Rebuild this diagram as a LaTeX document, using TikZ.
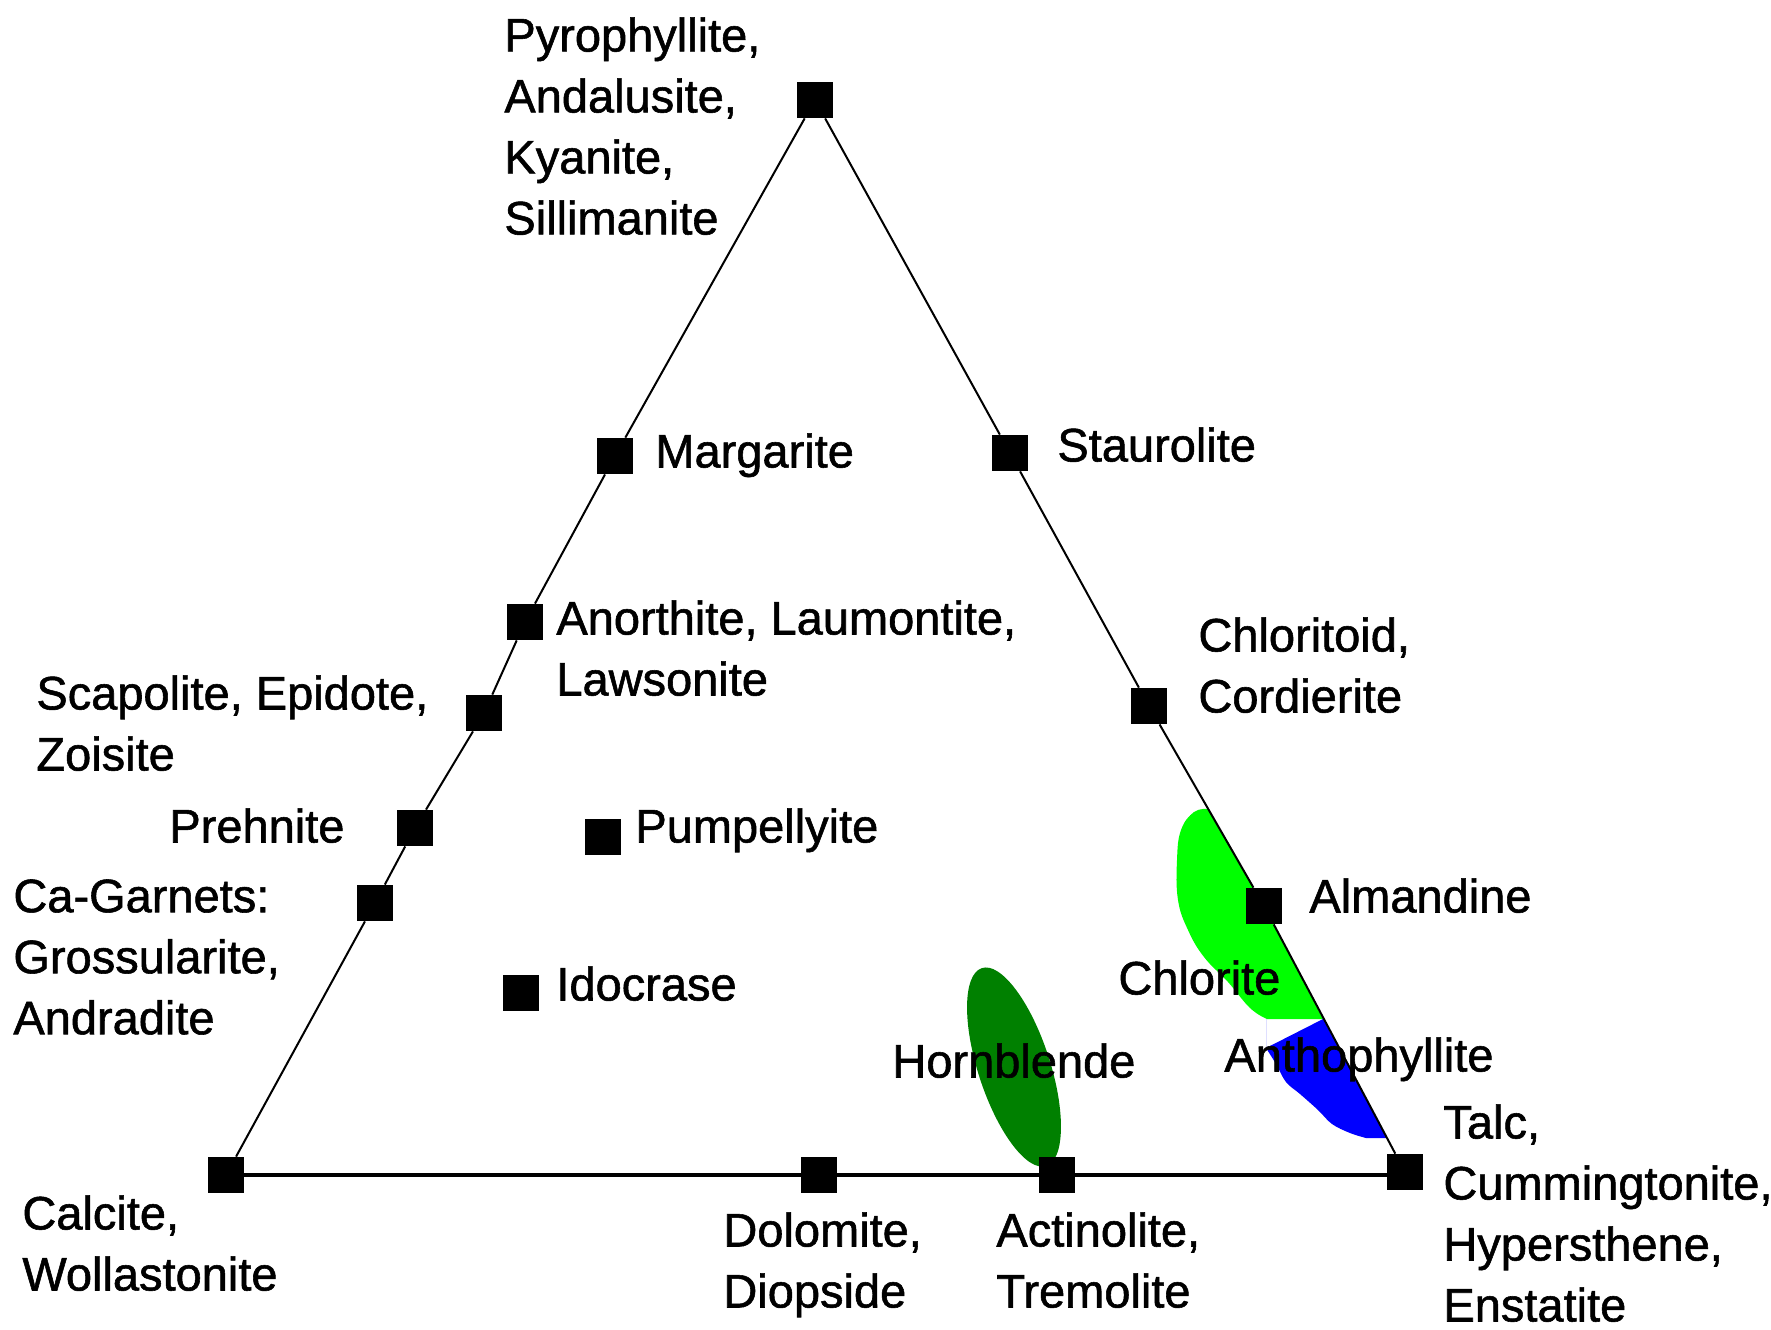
\documentclass[tikz,border=0pt]{standalone}
\usepackage{fontspec}
\setmainfont{Liberation Sans}
\newfontfamily\lblfont{Liberation Sans}[FakeBold=1.2]

\definecolor{chlgreen}{RGB}{0,255,0}
\definecolor{anthblue}{RGB}{0,0,255}
\definecolor{hbgreen}{RGB}{0,128,0}

\begin{document}
\begin{tikzpicture}[x=0.5pt, y=-0.5pt,
    mineral/.style={rectangle, fill=black, minimum size=18pt, inner sep=0pt},
    lbl/.style={anchor=north west, inner sep=0pt, align=left,
        font=\lblfont\fontsize{23.5}{30.5}\selectfont},
    side/.style={line width=1pt},
    base/.style={line width=2pt}]

    % Page frame
    \useasboundingbox (0,0) rectangle (1771,1329);

    % Mineral fields
    \fill[hbgreen, rotate around={18:(1014,1067)}] (1014,1067) ellipse [x radius=36, y radius=104];
    \fill[chlgreen] plot[smooth, tension=0.7] coordinates {(1208,809) (1194,812) (1181,830) (1177,860)
        (1178,900) (1188,930) (1204,957) (1228,982) (1250,1008) (1267,1019)}
        -- (1323,1019) -- (1264,906) -- cycle;
    \fill[anthblue] (1266,1019) -- (1266,1048) plot[smooth, tension=0.6] coordinates {(1266,1048) (1276,1064)
        (1286,1082) (1300,1094) (1318,1110) (1332,1124) (1350,1133) (1366,1138)}
        -- (1387,1138) -- (1323,1019) -- cycle;

    % End members and phases
    \node[mineral] (pyro) at (815,100) {};
    \node[mineral] (marg) at (615,456) {};
    \node[mineral] (anor) at (525,622) {};
    \node[mineral] (scap) at (484,713) {};
    \node[mineral] (preh) at (415,828) {};
    \node[mineral] (garn) at (375,903) {};
    \node[mineral] (pump) at (603,837) {};
    \node[mineral] (idoc) at (521,993) {};
    \node[mineral] (stau) at (1010,453) {};
    \node[mineral] (chld) at (1149,706) {};
    \node[mineral] (alm) at (1264,906) {};
    \node[mineral] (calc) at (226,1175) {};
    \node[mineral] (dolo) at (819,1175) {};
    \node[mineral] (acti) at (1057,1175) {};
    \node[mineral] (talc) at (1405,1172) {};

    % Triangle sides
    \draw[side] (pyro) -- (marg) -- (anor) -- (scap) -- (preh) -- (garn) -- (calc);
    \draw[side] (pyro) -- (stau) -- (chld) -- (alm) -- (talc);
    \draw[base] (calc) -- (dolo) -- (acti) -- (acti -| talc);

    % Labels
    \node[lbl] (pyro-l) at (504,17) {Pyrophyllite,\\Andalusite,\\Kyanite,\\Sillimanite};
    \node[lbl] (marg-l) at (655,433) {Margarite};
    \node[lbl] (stau-l) at (1057,427) {Staurolite};
    \node[lbl] (anor-l) at (556,600) {Anorthite, Laumontite,\\Lawsonite};
    \node[lbl] (scap-l) at (36,675) {Scapolite, Epidote,\\Zoisite};
    \node[lbl] (preh-l) at (169,808) {Prehnite};
    \node[lbl] (pump-l) at (635,808) {Pumpellyite};
    \node[lbl] (garn-l) at (13,879) {Ca-Garnets:\\Grossularite,\\Andradite};
    \node[lbl] (idoc-l) at (556,966) {Idocrase};
    \node[lbl] (chld-l) at (1198,617) {Chloritoid,\\Cordierite};
    \node[lbl] (alm-l) at (1309,878) {Almandine};
    \node[lbl] (chl-l) at (1118,960) {Chlorite};
    \node[lbl] (hbl-l) at (892,1043) {Hornblende};
    \node[lbl] (anth-l) at (1224,1037) {Anthophyllite};
    \node[lbl] (talc-l) at (1443,1104) {Talc,\\Cummingtonite,\\Hypersthene,\\Enstatite};
    \node[lbl] (calc-l) at (22,1195) {Calcite,\\Wollastonite};
    \node[lbl] (dolo-l) at (723,1212) {Dolomite,\\Diopside};
    \node[lbl] (acti-l) at (996,1212) {Actinolite,\\Tremolite};

\end{tikzpicture}
\end{document}
